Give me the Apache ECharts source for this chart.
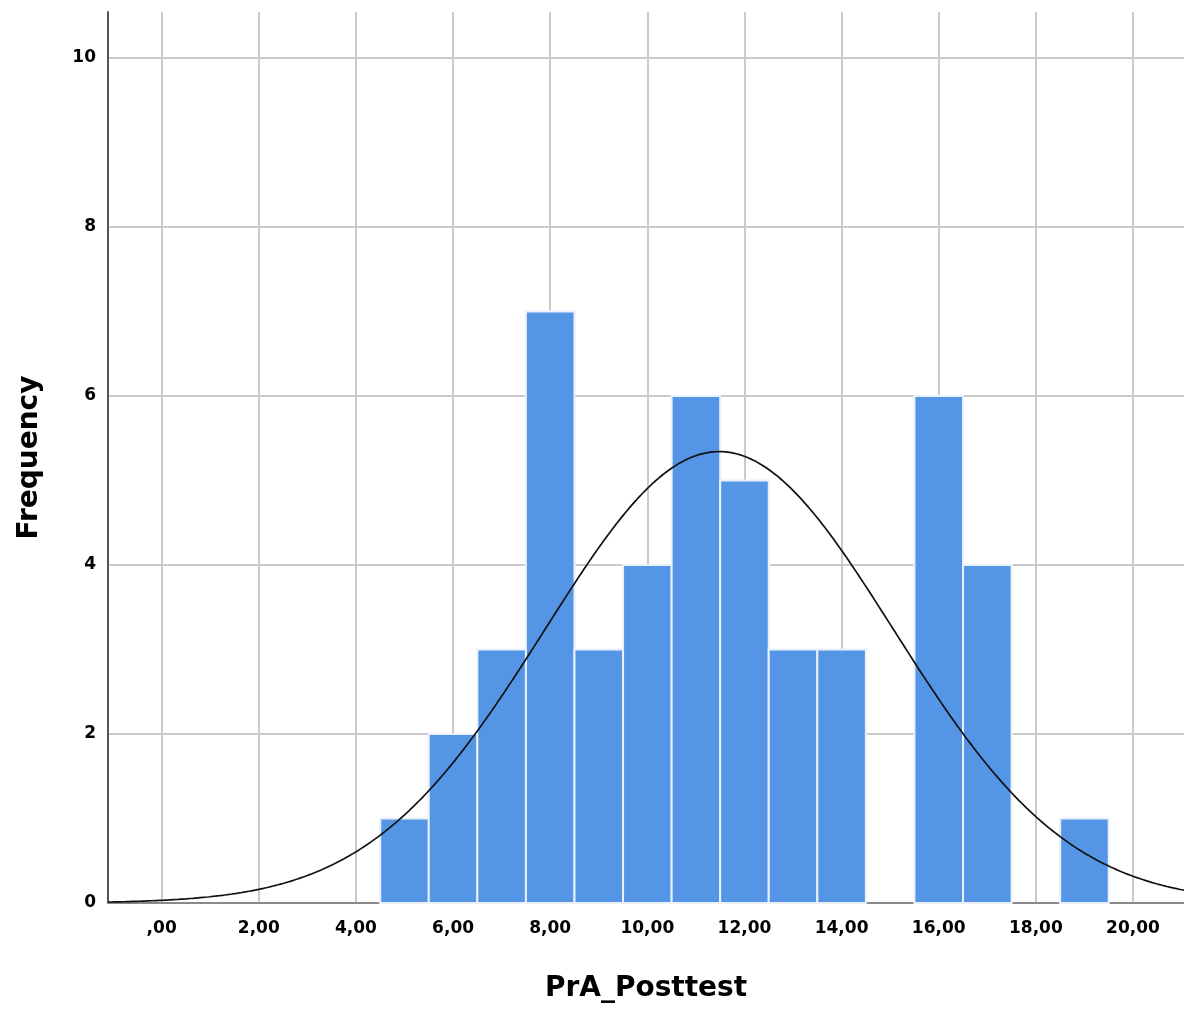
<!DOCTYPE html>
<html>
<head>
<meta charset="utf-8">
<script src="https://cdn.jsdelivr.net/npm/echarts@6/dist/echarts.min.js"></script>
<style>
html,body{margin:0;padding:0;background:#fff;}
#chart{width:1184px;height:1010px;}
</style>
</head>
<body>
<div id="chart"></div>
<script>
// Histogram bins (bin centers) and frequencies
const binCenters = [5, 6, 7, 8, 9, 10, 11, 12, 13, 14, 15, 16, 17, 18, 19];
const frequencies = [1, 2, 3, 7, 3, 4, 6, 5, 3, 3, 0, 6, 4, 0, 1];
const xTickValues = [0, 2, 4, 6, 8, 10, 12, 14, 16, 18, 20];
const xTickLabels = [',00', '2,00', '4,00', '6,00', '8,00', '10,00', '12,00', '14,00', '16,00', '18,00', '20,00'];
const yTickValues = [0, 2, 4, 6, 8, 10];
// Fitted normal curve parameters (as shown by the curve)
const N = 48;
const MEAN = 11.48;
const SD = 3.585;
const BIN_WIDTH = 1;
const X_MIN = -1.105, X_MAX = 21.05;
const Y_MAX = 10.544;

const barData = [];
binCenters.forEach((c, i) => { if (frequencies[i] > 0) barData.push([c, frequencies[i]]); });

const curveData = [];
for (let k = 0; k <= 443; k++) {
  const x = X_MIN + (X_MAX - X_MIN) * k / 443;
  const y = N * BIN_WIDTH / (SD * Math.sqrt(2 * Math.PI)) * Math.exp(-0.5 * Math.pow((x - MEAN) / SD, 2));
  curveData.push([x, y]);
}

const labelFont = {fontFamily: 'DejaVu Sans', fontWeight: 'bold', fontSize: 17, color: '#000'};
const chart = echarts.init(document.getElementById('chart'), null, {renderer: 'canvas'});
chart.setOption({
  animation: false,
  backgroundColor: '#fff',
  grid: {left: 108, right: 0, top: 12, bottom: 107, containLabel: false},
  xAxis: {
    type: 'value', min: X_MIN, max: X_MAX,
    name: 'PrA_Posttest', nameLocation: 'middle', nameGap: 72,
    nameTextStyle: {fontFamily: 'DejaVu Sans', fontWeight: 'bold', fontSize: 28, color: '#000'},
    axisLine: {show: true, onZero: false, lineStyle: {color: '#8a8a8a', width: 2}},
    axisTick: {show: false, customValues: xTickValues},
    axisLabel: Object.assign({customValues: xTickValues, margin: 17,
      formatter: v => { const i = xTickValues.indexOf(Math.round(v)); return i >= 0 ? xTickLabels[i] : ''; }}, labelFont),
    splitLine: {show: true, lineStyle: {color: '#cbcbcb', width: 2}}
  },
  yAxis: {
    type: 'value', min: 0, max: Y_MAX,
    name: 'Frequency', nameLocation: 'middle', nameGap: 64,
    nameTextStyle: {fontFamily: 'DejaVu Sans', fontWeight: 'bold', fontSize: 28, color: '#000'},
    axisLine: {show: true, onZero: false, lineStyle: {color: '#555', width: 2}},
    axisTick: {show: false, customValues: yTickValues},
    axisLabel: Object.assign({customValues: yTickValues, margin: 12}, labelFont),
    splitLine: {show: true, lineStyle: {color: '#cbcbcb', width: 2}}
  },
  series: [
    {
      type: 'custom',
      data: barData,
      z: 3,
      renderItem: function (params, api) {
        const x = api.value(0), y = api.value(1);
        const p0 = api.coord([x - BIN_WIDTH / 2, y]);
        const p1 = api.coord([x + BIN_WIDTH / 2, 0]);
        return {
          type: 'rect',
          shape: {x: p0[0], y: p0[1], width: p1[0] - p0[0], height: p1[1] - p0[1]},
          style: {fill: '#5595e5', stroke: '#eaf1fb', lineWidth: 2}
        };
      }
    },
    {
      type: 'line',
      data: curveData,
      showSymbol: false,
      smooth: false,
      z: 4,
      lineStyle: {color: '#111', width: 1.7},
      clip: true
    }
  ]
});
</script>
</body>
</html>
